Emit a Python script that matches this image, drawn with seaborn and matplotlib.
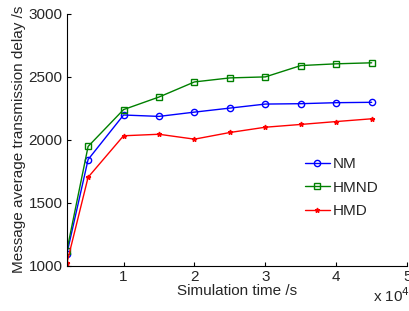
import numpy as np
import pandas as pd
import matplotlib
matplotlib.use('Agg')
import matplotlib.pyplot as plt
import seaborn as sns
from matplotlib.ticker import FuncFormatter

# simulation time (s)
sim_time = [2000, 5000, 10000, 15000, 20000, 25000, 30000, 35000, 40000, 45000]
nm = [1093, 1843, 2197, 2186, 2220, 2252, 2284, 2287, 2295, 2298]
hmnd = [1118, 1947, 2240, 2340, 2460, 2492, 2500, 2590, 2604, 2612]
hmd = [1018, 1702, 2032, 2044, 2005, 2058, 2100, 2122, 2145, 2167]
methods = ['NM', 'HMND', 'HMD']

df = pd.DataFrame({'time': sim_time * 3,
                   'delay': nm + hmnd + hmd,
                   'method': np.repeat(methods, len(sim_time))})

sns.set_style('white')
plt.rcParams['font.family'] = ['Liberation Sans', 'DejaVu Sans']
plt.rcParams['xtick.direction'] = 'in'
plt.rcParams['ytick.direction'] = 'in'
plt.rcParams['xtick.bottom'] = True
plt.rcParams['ytick.left'] = True

fig = plt.figure(figsize=(4.1, 3.11), dpi=100)
ax = fig.add_axes([0.163, 0.146, 0.830, 0.809])

palette = {'NM': (0, 0, 1), 'HMND': (0, 0.5, 0), 'HMD': (1, 0, 0)}
markers = {'NM': 'o', 'HMND': 's', 'HMD': '*'}
sns.lineplot(data=df, x='time', y='delay', hue='method', style='method',
             palette=palette, markers=markers, dashes=False, ax=ax,
             linewidth=1, markersize=4.5)


def open_markers(lines):
    # open markers with edge in line colour, like the original
    for ln in lines:
        c = ln.get_color()
        ln.set_markeredgecolor(c)
        ln.set_markeredgewidth(1)
        if ln.get_marker() == '*':
            ln.set_markerfacecolor(c)
            ln.set_markersize(3.5)
        else:
            ln.set_markerfacecolor('none')


open_markers(ax.lines)

ax.set_xlim(2000, 50000)
ax.set_ylim(1000, 3000)
ax.set_xticks([10000, 20000, 30000, 40000, 50000])
ax.set_yticks([1000, 1500, 2000, 2500, 3000])
ax.xaxis.set_major_formatter(FuncFormatter(lambda v, p: '%d' % round(v / 1e4)))
ax.tick_params(labelsize=11, length=3, width=0.8, color='black', pad=3)
ax.set_xlabel('Simulation time /s', fontsize=11, labelpad=0)
ax.set_ylabel('Message average transmission delay /s', fontsize=11, labelpad=2)
for s in ['top', 'right']:
    ax.spines[s].set_visible(False)
for s in ['left', 'bottom']:
    ax.spines[s].set_color('black')
    ax.spines[s].set_linewidth(0.8)

fig.text(0.91, 0.03, 'x 10$^4$', fontsize=11)

leg = ax.legend(frameon=False, fontsize=11, loc='upper left',
                bbox_to_anchor=(0.66, 0.485), handlelength=1.6,
                handletextpad=0.2, labelspacing=0.62)
open_markers(leg.get_lines())

fig.savefig('out.png', dpi=100)
